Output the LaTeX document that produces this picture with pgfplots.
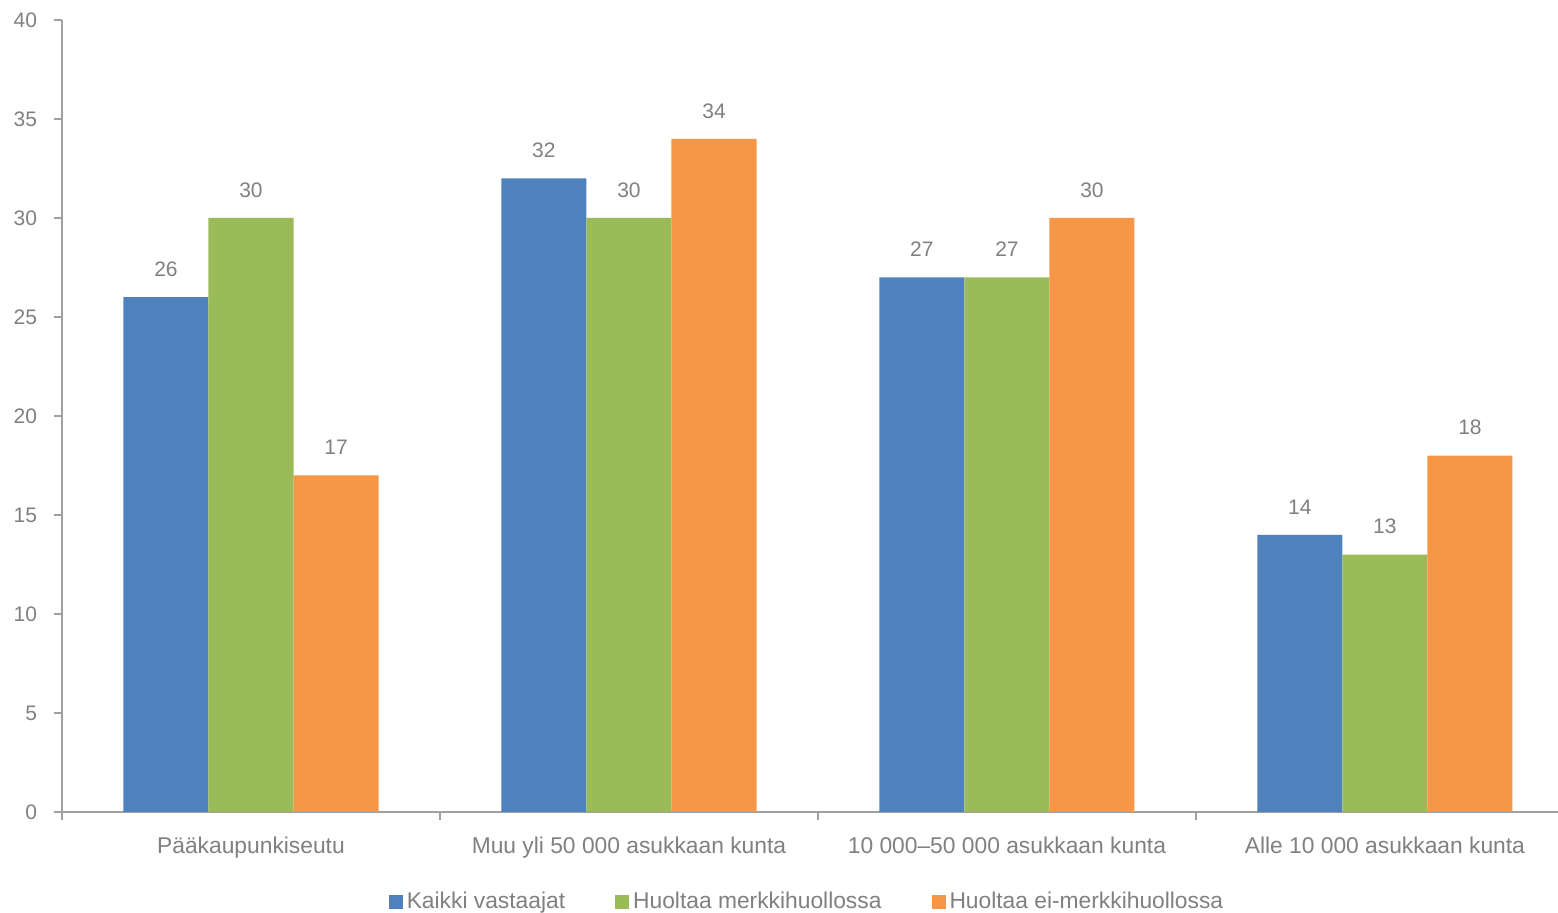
\documentclass[border=0pt]{standalone}
\usepackage{fontspec}
\setmainfont{Liberation Sans}
\usepackage{pgfplots}
\pgfplotsset{compat=1.18}
\usetikzlibrary{calc}
\definecolor{cblue}{RGB}{79,129,189}
\definecolor{cgreen}{RGB}{155,187,89}
\definecolor{corange}{RGB}{247,150,70}
\definecolor{tgray}{RGB}{128,128,128}
\definecolor{agray}{RGB}{160,160,160}
\begin{document}
\begin{tikzpicture}
\begin{axis}[name=ax, at={(0,0)}, anchor=south west,
  scale only axis, width=748bp, height=396bp,
  xmin=-0.5, xmax=3.458, ymin=0, ymax=40,
  axis lines*=left,
  axis line style={draw=agray, line width=0.8bp},
  ybar=0pt, bar width=0.225,
  ytick={0,5,...,40},
  xtick={0,1,2,3},
  xticklabels={Pääkaupunkiseutu, Muu yli 50 000 asukkaan kunta, 10 000–50 000 asukkaan kunta, Alle 10 000 asukkaan kunta},
  x tick style={draw=none},
  extra x ticks={-0.5,0.5,1.5,2.5},
  extra x tick labels={},
  extra x tick style={x tick style={draw=agray, line width=0.8bp}},
  y tick style={draw=agray, line width=0.8bp},
  tick align=outside, major tick length=4bp,
  /pgf/number format/assume math mode=true,
  yticklabel style={font=\fontsize{10.5bp}{12bp}\selectfont, text=tgray, xshift=-5bp},
  xticklabel style={font=\fontsize{11.4bp}{13bp}\selectfont, text=tgray, yshift=-5bp},
  nodes near coords,
  every node near coord/.append style={font=\fontsize{10.5bp}{12bp}\selectfont, text=tgray, anchor=south, inner sep=0pt, yshift=10bp},
  legend image code/.code={\fill[#1,draw=none] (-2bp,-3.5bp) rectangle (5bp,3.5bp);},
  legend style={at={(0.5,0)}, anchor=center, yshift=-45bp, xshift=-1bp, draw=none, fill=none,
    legend columns=-1, font=\fontsize{11.4bp}{13bp}\selectfont, text=tgray,
    /tikz/every even column/.append style={column sep=23bp}},
]
\addplot[fill=cblue, draw=none] coordinates {(0,26) (1,32) (2,27) (3,14)};
\addplot[fill=cgreen, draw=none] coordinates {(0,30) (1,30) (2,27) (3,13)};
\addplot[fill=corange, draw=none] coordinates {(0,17) (1,34) (2,30) (3,18)};
\legend{Kaikki vastaajat, Huoltaa merkkihuollossa, Huoltaa ei-merkkihuollossa}
\end{axis}
\pgfresetboundingbox
\path[use as bounding box] ($(ax.south west)+(-31bp,-50.5bp)$) rectangle ($(ax.north east)+(0,10bp)$);
\end{tikzpicture}
\end{document}
